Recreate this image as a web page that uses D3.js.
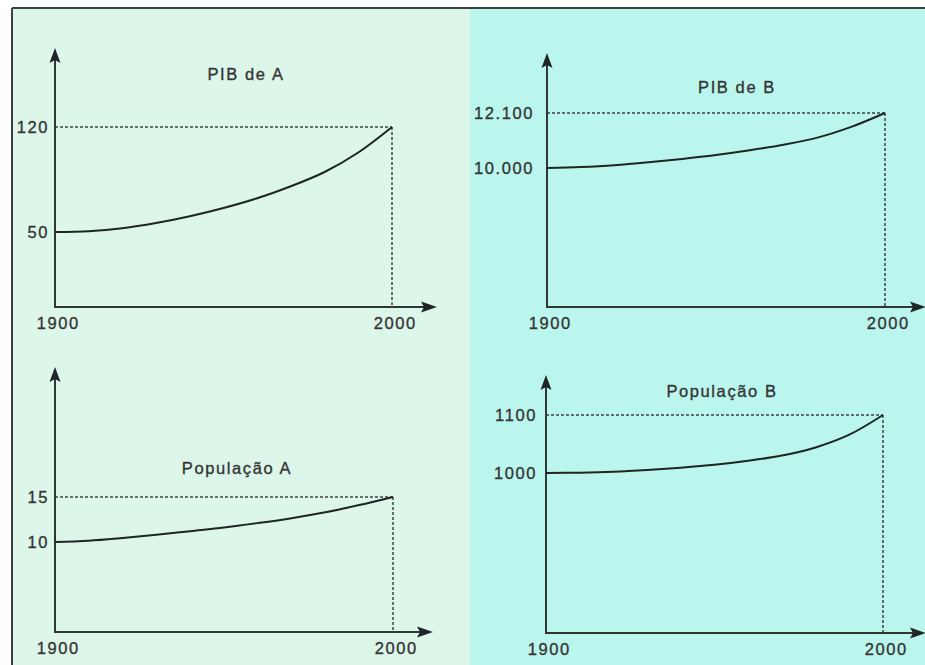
<!DOCTYPE html>
<html>
<head>
<meta charset="utf-8">
<script src="https://cdn.jsdelivr.net/npm/d3@7"></script>
<style>
  html, body { margin: 0; padding: 0; background: #ffffff; }
  svg { display: block; }
  text { font-family: "Liberation Sans", Arial, Helvetica, sans-serif; fill: #333; stroke: #3a3a3a; stroke-width: 0.35px; }
</style>
</head>
<body>
<svg id="chart" width="925" height="665"></svg>
<script>
// ---------- DATA ----------
const years = [1900, 1910, 1920, 1930, 1940, 1950, 1960, 1970, 1980, 1990, 2000];
const pibA  = [50, 50.5, 52.5, 56, 60.5, 66, 72.5, 80.5, 90, 103, 120];
const pibB  = [10000, 10040, 10110, 10220, 10350, 10500, 10680, 10890, 11160, 11570, 12100];
const popA  = [10, 10.15, 10.45, 10.8, 11.2, 11.6, 12.1, 12.65, 13.3, 14.1, 15];
const popB  = [1000, 1000.5, 1002, 1005, 1009, 1014, 1021, 1030, 1044, 1066, 1100];

const titles = ["PIB de A", "PIB de B", "População A", "População B"];
const xTicks = [1900, 2000];
const xTickLabels = ["1900", "2000"];
const yTicksPibA = [50, 120];       const yLabelsPibA = ["50", "120"];
const yTicksPibB = [10000, 12100];  const yLabelsPibB = ["10.000", "12.100"];
const yTicksPopA = [10, 15];        const yLabelsPopA = ["10", "15"];
const yTicksPopB = [1000, 1100];    const yLabelsPopB = ["1000", "1100"];

// ---------- LAYOUT ----------
const layout = [
  { series: pibA, ticks: yTicksPibA, labels: yLabelsPibA, title: titles[0], yFloor: 0,
    x0: 55, x1: 392, xArrow: 437, yBase: 307, yTop: 127, yArrow: 48, gap: 6, titleX: 246, titleY: 80 },
  { series: pibB, ticks: yTicksPibB, labels: yLabelsPibB, title: titles[1], yFloor: 4704,
    x0: 547, x1: 885, xArrow: 926, yBase: 307, yTop: 113, yArrow: 53, gap: 13, titleX: 737, titleY: 93 },
  { series: popA, ticks: yTicksPopA, labels: yLabelsPopA, title: titles[2], yFloor: 0,
    x0: 55, x1: 393, xArrow: 433, yBase: 632, yTop: 497, yArrow: 367, gap: 6, titleX: 237, titleY: 474 },
  { series: popB, ticks: yTicksPopB, labels: yLabelsPopB, title: titles[3], yFloor: 724,
    x0: 546, x1: 883, xArrow: 926, yBase: 633, yTop: 415, yArrow: 375, gap: 9, titleX: 722, titleY: 397 }
];

const INK = "#2f3634";
const svg = d3.select("#chart");

// backgrounds
svg.append("rect").attr("x", 12).attr("y", 8).attr("width", 458).attr("height", 657).attr("fill", "#dcf6ea");
svg.append("rect").attr("x", 470).attr("y", 8).attr("width", 455).attr("height", 657).attr("fill", "#baf6ed");
// frame
svg.append("line").attr("x1", 12).attr("y1", 8).attr("x2", 925).attr("y2", 8)
  .attr("stroke", "#3a4240").attr("stroke-width", 2);
svg.append("line").attr("x1", 12).attr("y1", 8).attr("x2", 12).attr("y2", 665)
  .attr("stroke", "#3a4240").attr("stroke-width", 2);

const fontSize = 16.5, spacing = 1.6;

layout.forEach(p => {
  const g = svg.append("g");
  const x = d3.scaleLinear().domain([years[0], years[years.length - 1]]).range([p.x0, p.x1]);
  const maxV = p.series[p.series.length - 1];
  const y = d3.scaleLinear().domain([p.yFloor, maxV]).range([p.yBase, p.yTop]);

  // dotted guide lines
  g.append("line")
    .attr("x1", x(years[0])).attr("y1", y(maxV))
    .attr("x2", x(years[years.length - 1])).attr("y2", y(maxV))
    .attr("stroke", "#3d4442").attr("stroke-width", 1.5).attr("stroke-dasharray", "3,2");
  g.append("line")
    .attr("x1", x(years[years.length - 1])).attr("y1", y(maxV))
    .attr("x2", x(years[years.length - 1])).attr("y2", p.yBase)
    .attr("stroke", "#3d4442").attr("stroke-width", 1.5).attr("stroke-dasharray", "3,2");

  // axes lines with arrows
  g.append("line").attr("x1", p.x0).attr("y1", p.yBase).attr("x2", p.x0).attr("y2", p.yArrow + 10)
    .attr("stroke", INK).attr("stroke-width", 2);
  g.append("line").attr("x1", p.x0 - 1).attr("y1", p.yBase).attr("x2", p.xArrow - 10).attr("y2", p.yBase)
    .attr("stroke", INK).attr("stroke-width", 2);
  g.append("path")
    .attr("d", `M${p.x0},${p.yArrow} L${p.x0 + 5.5},${p.yArrow + 15} L${p.x0},${p.yArrow + 12} L${p.x0 - 5.5},${p.yArrow + 15} Z`)
    .attr("fill", "#1f2524");
  g.append("path")
    .attr("d", `M${p.xArrow},${p.yBase} L${p.xArrow - 16},${p.yBase - 5.5} L${p.xArrow - 13},${p.yBase} L${p.xArrow - 16},${p.yBase + 5.5} Z`)
    .attr("fill", "#1f2524");

  // y tick labels
  const yAxis = d3.axisLeft(y).tickValues(p.ticks).tickSize(0).tickPadding(p.gap)
    .tickFormat((d, i) => p.labels[i]);
  const ya = g.append("g").attr("transform", `translate(${p.x0},0)`).call(yAxis);
  ya.select(".domain").remove();
  ya.selectAll("text").attr("font-size", fontSize).style("letter-spacing", spacing + "px")
    .attr("fill", "#333").attr("font-family", null);

  // x tick labels
  const xAxis = d3.axisBottom(x).tickValues(xTicks).tickSize(0).tickPadding(10)
    .tickFormat((d, i) => xTickLabels[i]);
  const xa = g.append("g").attr("transform", `translate(${spacing / 2 + 2},${p.yBase})`).call(xAxis);
  xa.select(".domain").remove();
  xa.selectAll("text").attr("font-size", fontSize).style("letter-spacing", spacing + "px")
    .attr("fill", "#333").attr("font-family", null);

  // curve
  const line = d3.line().x((d, i) => x(years[i])).y(d => y(d)).curve(d3.curveCatmullRom.alpha(0.5));
  g.append("path").datum(p.series).attr("d", line)
    .attr("fill", "none").attr("stroke", "#1f2524").attr("stroke-width", 2);

  // title
  g.append("text").attr("x", p.titleX).attr("y", p.titleY).attr("text-anchor", "middle")
    .attr("font-size", fontSize).style("letter-spacing", spacing + "px").text(p.title);
});
</script>
</body>
</html>
